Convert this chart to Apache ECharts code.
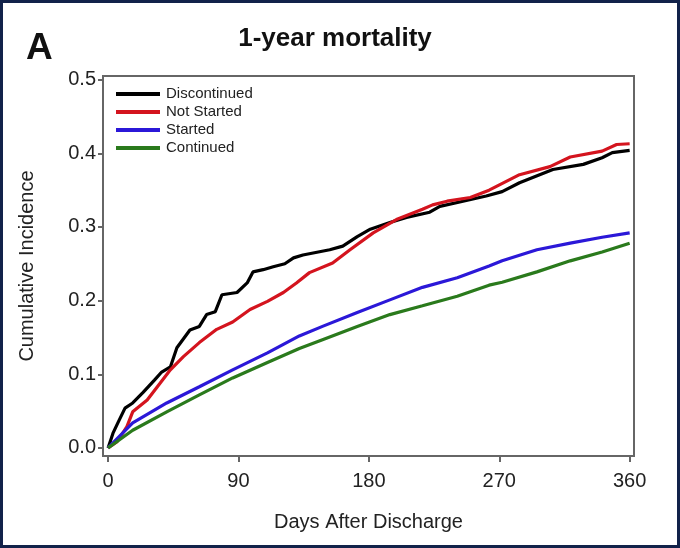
<html>
<head>
<meta charset="utf-8">
<script src="https://cdn.jsdelivr.net/npm/echarts@6/dist/echarts.min.js"></script>
<style>
    html, body { margin: 0; padding: 0; background: #fff; }
    #frame { position: relative; width: 680px; height: 548px; box-sizing: border-box; border: 3px solid #12224a; background: #fff; }
    #chart { position: absolute; left: -3px; top: -3px; width: 680px; height: 548px; }
</style>
</head>
<body>
<div id="frame"><div id="chart"></div></div>
<script type="text/javascript">
    // values: days after discharge / cumulative incidence
    var discDays = [0, 3.4, 7, 11.7, 17, 24, 32, 37, 43, 47.5, 56.5, 63, 68, 74, 78.6, 89, 96, 100, 107, 114, 122, 128, 134.5, 153, 162, 172, 181, 194.5, 206, 222, 229, 245, 261, 272, 284, 307, 328, 341, 348, 360];
    var discVals = [0, .02, .035, .054, .061, .075, .092, .103, .11, .136, .16, .165, .181, .185, .208, .211, .224, .239, .242, .246, .25, .258, .262, .269, .274, .287, .297, .306, .313, .32, .328, .335, .342, .348, .36, .378, .385, .394, .401, .404];

    var notDays = [0, 6, 13, 17, 27, 36, 43, 52, 63, 75, 86, 98, 110, 121, 130, 139, 155, 167, 183, 199, 217, 224, 234, 250, 263, 284, 305, 319, 341, 351, 360];
    var notVals = [0, .008, .029, .049, .065, .088, .106, .124, .143, .161, .171, .188, .199, .211, .224, .238, .251, .269, .292, .31, .324, .33, .335, .34, .35, .371, .382, .395, .403, .412, .413];

    var startDays = [0, 17, 40.5, 63, 86, 110, 132, 148, 172, 194.5, 217, 241, 263, 272, 296, 319, 341, 360];
    var startVals = [0, .034, .061, .083, .106, .129, .152, .165, .184, .201, .218, .231, .247, .254, .269, .278, .286, .292];

    var contDays = [0, 17, 40.5, 63, 86, 110, 132, 148, 172, 194.5, 217, 241, 263, 272, 296, 319, 341, 360];
    var contVals = [0, .024, .049, .072, .095, .116, .135, .147, .165, .181, .193, .206, .221, .225, .239, .254, .266, .278];

    var xTicks = [0, 90, 180, 270, 360];
    var yTicks = [0, 0.1, 0.2, 0.3, 0.4, 0.5];

    function pairs(xs, ys) {
        var out = [];
        for (var i = 0; i < xs.length; i++) out.push([xs[i], ys[i]]);
        return out;
    }

    var myChart = echarts.init(document.getElementById('chart'), null, { renderer: 'canvas' });
    var axisColor = '#666';
    var txt = '#222';
    var fnt = 'Liberation Sans, Arial, sans-serif';

    function line(name, color, data) {
        return {
            name: name, type: 'line', data: data, symbol: 'none',
            lineStyle: { color: color, width: 3.2 }, itemStyle: { color: color }
        };
    }

    var option = {
        animation: false,
        textStyle: { fontFamily: fnt },
        title: [
            { text: '1-year mortality', left: 330, top: 21, textAlign: 'center',
              textStyle: { fontSize: 26, fontWeight: 'bold', color: '#111', fontFamily: fnt } },
            { text: 'A', left: 21, top: 25,
              textStyle: { fontSize: 37, fontWeight: 'bold', color: '#111', fontFamily: fnt } }
        ],
        legend: {
            orient: 'vertical', left: 111, top: 81, itemWidth: 44, itemHeight: 4, itemGap: 2,
            icon: 'rect',
            textStyle: { fontSize: 15, lineHeight: 16, color: txt, fontFamily: fnt, padding: [0, 0, 0, 1] },
            data: ['Discontinued', 'Not Started', 'Started', 'Continued']
        },
        grid: { left: 103, right: 46, top: 76, bottom: 92, show: true, borderColor: axisColor, borderWidth: 2, backgroundColor: '#fff' },
        xAxis: {
            type: 'value', min: -3.5, max: 363,
            name: 'Days After Discharge', nameLocation: 'middle', nameGap: 56,
            nameTextStyle: { fontSize: 20, color: txt, fontFamily: fnt },
            axisLine: { show: false, onZero: false },
            splitLine: { show: false },
            axisTick: { show: true, length: 6, customValues: xTicks, lineStyle: { color: axisColor, width: 2 } },
            axisLabel: { customValues: xTicks, fontSize: 20, color: txt, margin: 15, fontFamily: fnt }
        },
        yAxis: {
            type: 'value', min: -0.011, max: 0.505,
            name: 'Cumulative Incidence', nameLocation: 'middle', nameGap: 66, nameRotate: 90,
            nameTextStyle: { fontSize: 20, color: txt, fontFamily: fnt },
            axisLine: { show: false, onZero: false },
            splitLine: { show: false },
            axisTick: { show: true, length: 5, customValues: yTicks, lineStyle: { color: axisColor, width: 2 } },
            axisLabel: { customValues: yTicks, fontSize: 20, color: txt, margin: 7, fontFamily: fnt,
                formatter: function (v) { return v.toFixed(1); } }
        },
        series: [
            line('Discontinued', '#000000', pairs(discDays, discVals)),
            line('Not Started', '#d4141e', pairs(notDays, notVals)),
            line('Started', '#2b18d8', pairs(startDays, startVals)),
            line('Continued', '#2a7a1c', pairs(contDays, contVals))
        ]
    };
    myChart.setOption(option);
</script>
</body>
</html>
